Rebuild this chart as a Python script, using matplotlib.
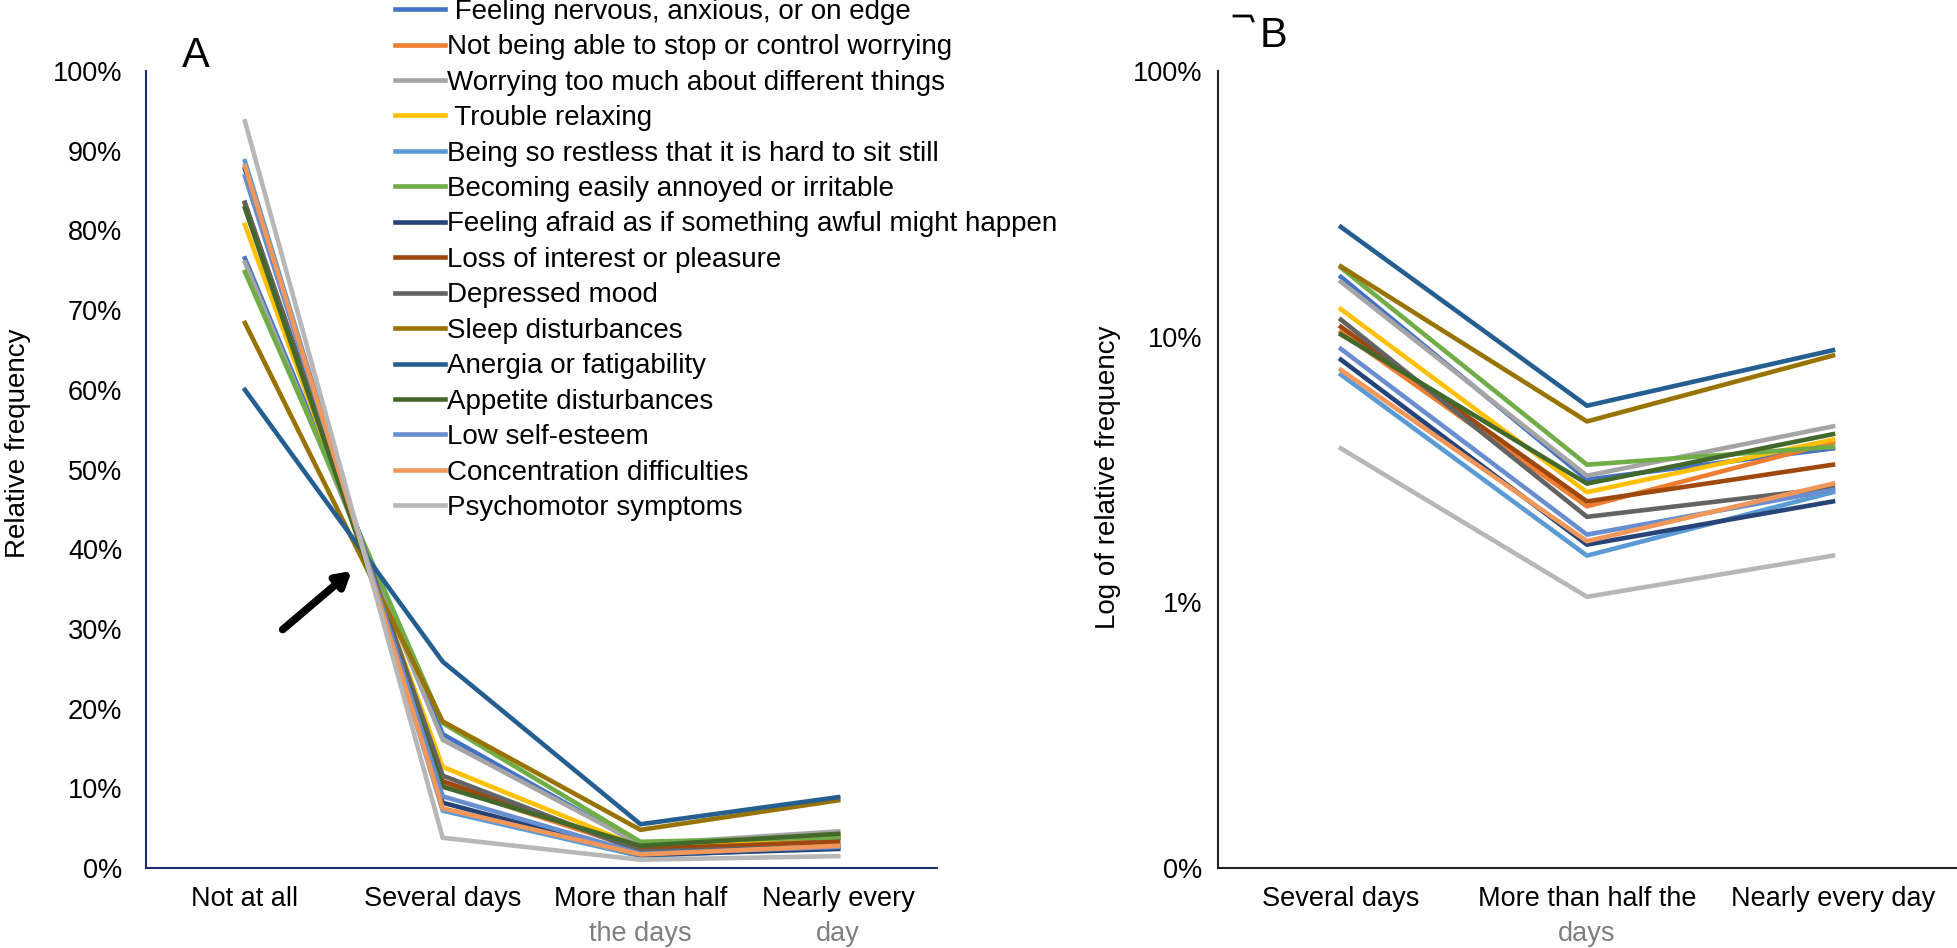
import matplotlib.pyplot as plt
import matplotlib.transforms as mtransforms
from matplotlib.lines import Line2D

plt.rcParams['font.family'] = ['Liberation Sans', 'DejaVu Sans']

symptoms = [' Feeling nervous, anxious, or on edge',
            'Not being able to stop or control worrying',
            'Worrying too much about different things',
            ' Trouble relaxing',
            'Being so restless that it is hard to sit still',
            'Becoming easily annoyed or irritable',
            'Feeling afraid as if something awful might happen',
            'Loss of interest or pleasure',
            'Depressed mood',
            'Sleep disturbances',
            'Anergia or fatigability',
            'Appetite disturbances',
            'Low self-esteem',
            'Concentration difficulties',
            'Psychomotor symptoms']

colors = ['#4472C4', '#ED7D31', '#A5A5A5', '#FFC000', '#5B9BD5', '#70AD47',
          '#264478', '#9E480E', '#636363', '#997300', '#255E91', '#43682B',
          '#698ED0', '#F1975A', '#B7B7B7']

# relative frequency in percent, one value per symptom
not_at_all = [76.5, 83.3, 76.0, 80.7, 88.7, 74.8, 87.7, 83.4, 83.5, 68.4, 60.0, 82.8, 86.8, 88.1, 93.7]
several_days = [16.8, 10.4, 16.1, 12.7, 7.2, 18.2, 8.2, 10.9, 11.6, 18.4, 25.9, 10.2, 9.0, 7.5, 3.8]
more_than_half = [2.9, 2.3, 3.0, 2.6, 1.5, 3.3, 1.65, 2.4, 2.1, 4.8, 5.5, 2.8, 1.8, 1.7, 1.05]
nearly_every = [3.8, 4.0, 4.6, 4.1, 2.6, 3.85, 2.4, 3.3, 2.7, 8.5, 8.9, 4.3, 2.65, 2.8, 1.5]

cats_a = ['Not at all', 'Several days', 'More than half', 'Nearly every']
cats_a_2nd = ['', '', 'the days', 'day']
cats_b = ['Several days', 'More than half the', 'Nearly every day']
cats_b_2nd = ['', 'days', '']

fig = plt.figure(figsize=(19.58, 9.48), dpi=100)
axA = fig.add_axes([0.0746, 0.0843, 0.404, 0.8407])
axB = fig.add_axes([0.622, 0.0843, 0.377, 0.8407])

lines = []
for i in range(len(symptoms)):
    vals = [not_at_all[i], several_days[i], more_than_half[i], nearly_every[i]]
    ln, = axA.plot(range(4), [v / 100 for v in vals], color=colors[i], lw=3.3)
    lines.append(ln)
    axB.plot(range(3), [v / 100 for v in vals[1:]], color=colors[i], lw=3.3)

# panel A
axA.set_xlim(-0.5, 3.5)
axA.set_ylim(0, 1)
axA.set_yticks([i / 10 for i in range(11)])
axA.set_yticklabels([f'{i * 10}%' for i in range(11)])
axA.set_xticks(range(4))
axA.set_xticklabels(cats_a)
for s in ['top', 'right']:
    axA.spines[s].set_visible(False)
for s in ['left', 'bottom']:
    axA.spines[s].set_color('#1F2D6B')
    axA.spines[s].set_linewidth(1.5)
axA.set_ylabel('Relative frequency', fontsize=20)
axA.yaxis.set_label_coords(-0.146, 0.533)
axA.text(0.063, 1.019, 'A', transform=axA.transAxes, fontsize=30,
         ha='center', va='center')
axA.annotate('', xy=(0.55, 0.375), xytext=(0.18, 0.297),
             arrowprops=dict(arrowstyle='-|>,head_length=0.85,head_width=0.5',
                             color='black', lw=5.5))

# panel B
axB.set_yscale('log')
axB.set_xlim(-0.5, 2.5)
axB.set_ylim(0.001, 1)
axB.set_yticks([0.001, 0.01, 0.1, 1])
axB.set_yticklabels(['0%', '1%', '10%', '100%'])
axB.minorticks_off()
axB.set_xticks(range(3))
axB.set_xticklabels(cats_b)
for s in ['top', 'right']:
    axB.spines[s].set_visible(False)
for s in ['left', 'bottom']:
    axB.spines[s].set_color('#222222')
    axB.spines[s].set_linewidth(1.5)
axB.set_ylabel('Log of relative frequency', fontsize=20)
axB.yaxis.set_label_coords(-0.131, 0.49)
axB.text(0.076, 1.044, 'B', transform=axB.transAxes, fontsize=30,
         ha='center', va='center')
# small clipped mark left of the "B" in the original figure
fig.add_artist(Line2D([1234 / 1958, 1251 / 1958, 1253 / 1958],
                      [1 - 16 / 948, 1 - 16 / 948, 1 - 21 / 948],
                      transform=fig.transFigure, color='black', lw=2))

for ax, second, ypad in [(axA, cats_a_2nd, 17), (axB, cats_b_2nd, 11)]:
    ax.tick_params(axis='both', length=0, labelsize=19.5)
    ax.tick_params(axis='y', pad=ypad)
    ax.tick_params(axis='x', pad=13)
    trans = mtransforms.blended_transform_factory(ax.transData, ax.transAxes)
    for x, t in enumerate(second):
        if t:
            ax.text(x, -0.083, t, transform=trans, ha='center', va='center',
                    fontsize=19.5, color='#7F7F7F')

fig.legend(lines, symptoms, loc='upper left', bbox_to_anchor=(0.196, 1.013),
           frameon=False, fontsize=20, handlelength=1.8, handletextpad=0.08,
           labelspacing=0.34, borderaxespad=0)

fig.savefig('out.png', dpi=100)
